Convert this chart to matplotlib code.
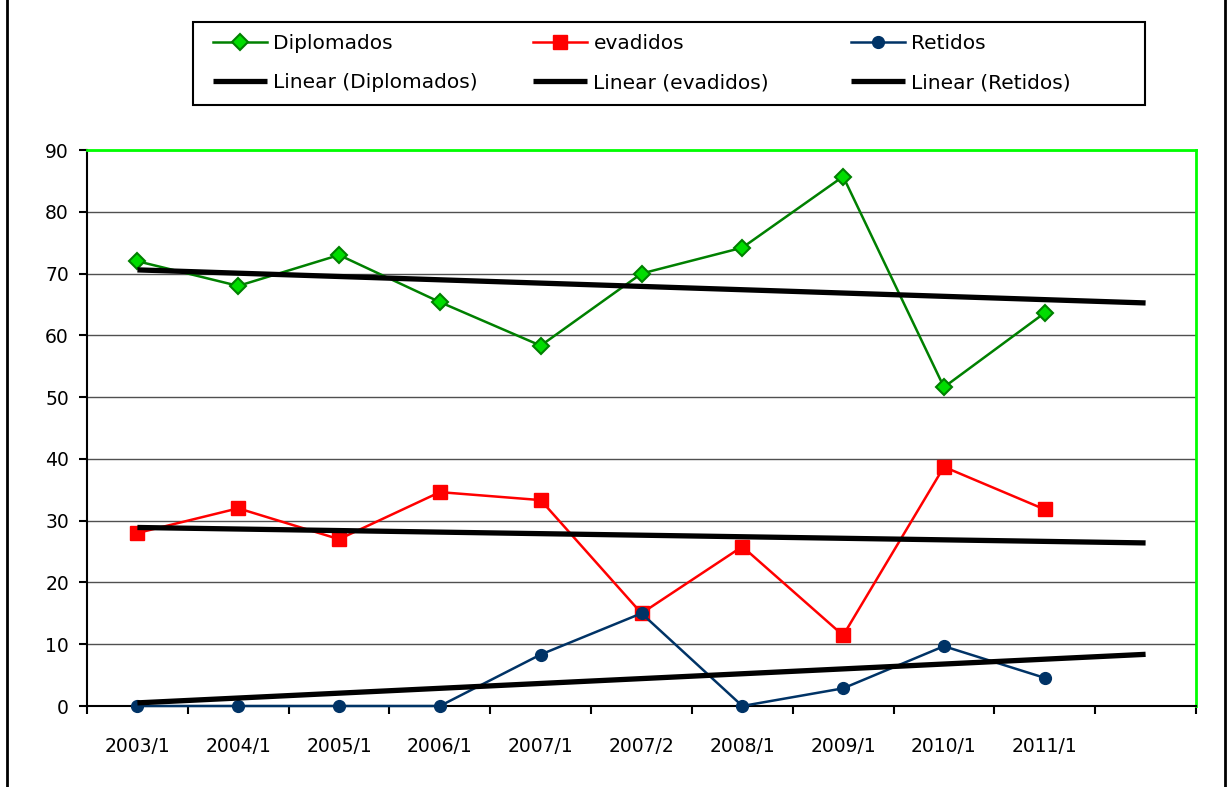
import matplotlib.pyplot as plt
import numpy as np
from matplotlib.lines import Line2D
from matplotlib.patches import Rectangle

plt.rcParams['font.family'] = ['DejaVu Sans']

# ----------------------------------
# Data
# ----------------------------------
periods = ["2003/1", "2004/1", "2005/1", "2006/1", "2007/1",
           "2007/2", "2008/1", "2009/1", "2010/1", "2011/1"]

diplomados = [72.0, 68.0, 73.0, 65.38, 58.33, 70.0, 74.19, 85.71, 51.61, 63.64]
evadidos = [28.0, 32.0, 27.0, 34.62, 33.33, 15.0, 25.81, 11.43, 38.71, 31.82]
retidos = [0.0, 0.0, 0.0, 0.0, 8.33, 15.0, 0.0, 2.86, 9.68, 4.55]

y_ticks = [0, 10, 20, 30, 40, 50, 60, 70, 80, 90]

# ----------------------------------
# Plot
# ----------------------------------
W, H = 1227, 787
fig = plt.figure(figsize=(W / 100, H / 100), dpi=100)
ax = fig.add_axes([87 / W, 1 - 706 / H, (1196 - 87) / W, (706 - 150) / H])

x = np.arange(1, len(periods) + 1)
x_trend = np.array([1, len(periods) + 1])   # trend extended one period forward

series = [
    ("Diplomados", diplomados, dict(color="#008000", marker="D", ms=8,
                                   mfc="#00DD00", mec="#008000", mew=1.5)),
    ("evadidos", evadidos, dict(color="#FF0000", marker="s", ms=10,
                               mfc="#FF0000", mec="#FF0000")),
    ("Retidos", retidos, dict(color="#003366", marker="o", ms=8.5,
                             mfc="#003366", mec="#003366")),
]

handles = []
for name, vals, style in series:
    line, = ax.plot(x, vals, lw=1.8, label=name, zorder=3, clip_on=False, **style)
    coef = np.polyfit(x, vals, 1)
    trend, = ax.plot(x_trend, np.polyval(coef, x_trend), color="black", lw=3.8,
                     solid_capstyle="butt", label="Linear (%s)" % name, zorder=4)
    handles.append((line, trend))

# ----------------------------------
# Axes styling
# ----------------------------------
ax.set_xlim(0.5, len(periods) + 1.5)
ax.set_ylim(0, 90)
ax.set_yticks(y_ticks)
ax.tick_params(axis="y", direction="out", length=6, width=1.5, labelsize=13.5, pad=7)

# boundaries get tick marks, category centers get the labels
ax.set_xticks(np.arange(0.5, len(periods) + 2, 1.0))
ax.set_xticklabels([])
ax.set_xticks(x, minor=True)
ax.set_xticklabels(periods, minor=True)
ax.tick_params(axis="x", which="major", direction="out", length=6, width=1.5)
ax.tick_params(axis="x", which="minor", length=0, labelsize=13.5, pad=22)

ax.grid(axis="y", color="#505050", lw=1)
for side in ("top", "right"):
    ax.spines[side].set_color("#00FF00")
    ax.spines[side].set_linewidth(2)
for side in ("left", "bottom"):
    ax.spines[side].set_color("black")
    ax.spines[side].set_linewidth(1.5)

# ----------------------------------
# Legend: one column per series inside a single box
# ----------------------------------
col_x = [213, 533, 851]
for (line, trend), cx in zip(handles, col_x):
    fig.legend([line, trend], [line.get_label(), trend.get_label()],
               loc="upper left", bbox_to_anchor=(cx / W, 1 - 34 / H),
               frameon=False, borderpad=0, borderaxespad=0, numpoints=1,
               handlelength=2.7, handletextpad=0.3, labelspacing=1.0,
               fontsize=14.5)

fig.patches.append(Rectangle((193 / W, 1 - 105 / H), (1145 - 193) / W, 83 / H,
                             transform=fig.transFigure, fill=False,
                             edgecolor="black", lw=1.5))

# outer chart frame
for fx in (7, 1225):
    fig.add_artist(Line2D([fx / W, fx / W], [0, 1], transform=fig.transFigure,
                          color="black", lw=2))

fig.savefig("out.png", dpi=100, facecolor="white")
